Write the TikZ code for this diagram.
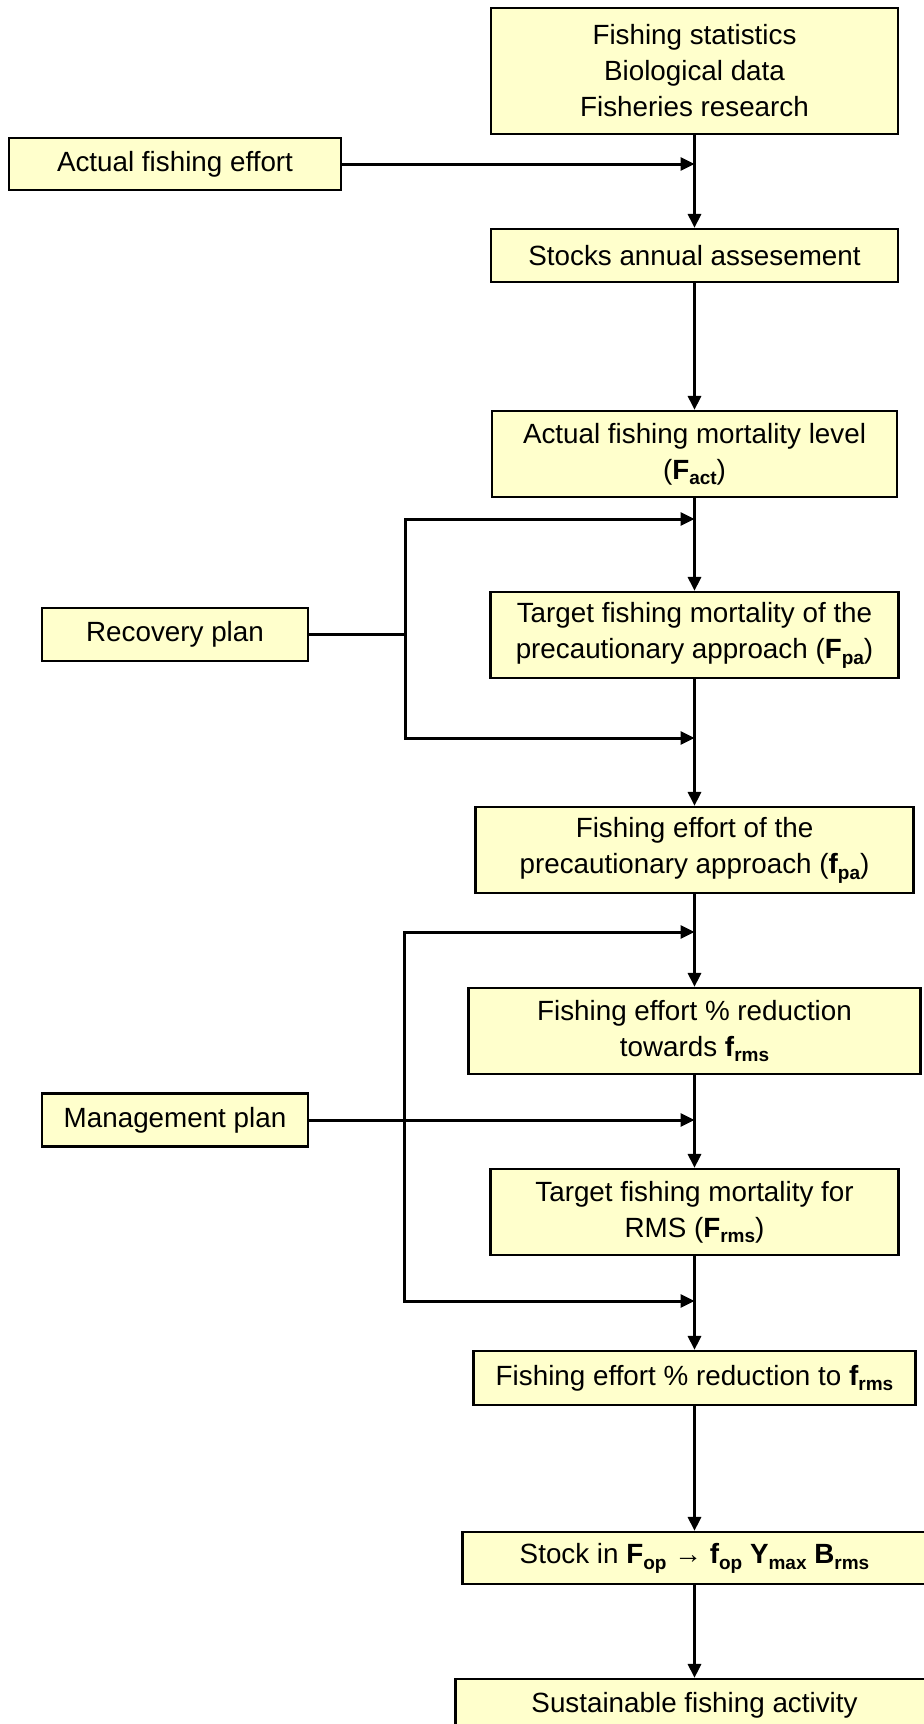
\documentclass[tikz,border=0pt]{standalone}
\usepackage{fontspec}
\setmainfont{Liberation Sans}
\usetikzlibrary{arrows.meta,positioning}
\definecolor{boxyellow}{RGB}{255,255,204}
\newcommand{\sbs}[1]{\raisebox{-0.4ex}{\fontsize{9.5}{10}\selectfont\bfseries #1}}

\begin{document}
\begin{tikzpicture}[x=0.5pt, y=-0.5pt, line width=1.5pt,
  box/.style = {draw, line width=1.1pt, fill=boxyellow, align=center, inner sep=0pt, font=\fontsize{13.9}{18}\selectfont},
  arr/.style = {-{Triangle[length=7pt,width=6.5pt]}},
  twoarr/.style = {{Triangle[length=7pt,width=6.5pt]}-{Triangle[length=7pt,width=6.5pt]}}]
\useasboundingbox (0,0) rectangle (923,1724);

% main column
\node[box, minimum width=203.5pt, minimum height=63pt] (src) at (694.5,71) {Fishing statistics\\Biological data\\Fisheries research};
\node[box, minimum width=203.5pt, minimum height=26.5pt] (stocks) [below of=src, node distance=92.25pt] {Stocks annual assesement};
\node[box, minimum width=202.5pt, minimum height=43pt] (fact) [below of=stocks, node distance=99.25pt] {Actual fishing mortality level\\(\textbf{F}\sbs{act})};
\node[box, minimum width=204pt, minimum height=43pt] (fpa) [below of=fact, node distance=90.5pt] {Target fishing mortality of the\\precautionary approach (\textbf{F}\sbs{pa})};
\node[box, minimum width=219pt, minimum height=43pt] (effpa) [below of=fpa, node distance=107.5pt] {Fishing effort of the\\precautionary approach (\textbf{f}\sbs{pa})};
\node[box, minimum width=226pt, minimum height=43pt] (redtow) [below of=effpa, node distance=90.5pt] {Fishing effort \% reduction\\towards \textbf{f}\sbs{rms}};
\node[box, minimum width=204pt, minimum height=43pt] (frms) [below of=redtow, node distance=90.5pt] {Target fishing mortality for\\RMS (\textbf{F}\sbs{rms})};
\node[box, minimum width=221pt, minimum height=27pt] (redto) [below of=frms, node distance=83pt] {Fishing effort \% reduction to \textbf{f}\sbs{rms}};
\node[box, minimum width=232pt, minimum height=26pt] (stock) [below of=redto, node distance=90pt] {Stock in \textbf{F}\sbs{op} → \textbf{f}\sbs{op} \textbf{Y}\sbs{max} \textbf{B}\sbs{rms}};
\node[box, minimum width=239pt, minimum height=26.5pt] (sust) [below of=stock, node distance=73.75pt] {Sustainable fishing activity};

% side inputs
\node[box, minimum width=166pt, minimum height=26pt] (effort) at (175,164) {Actual fishing effort};
\node[box, minimum width=133pt, minimum height=26.5pt] (recovery) at (175,634.5) {Recovery plan};
\node[box, minimum width=133pt, minimum height=26.5pt] (mgmt) at (175,1120) {Management plan};

\coordinate (rtop) at (405,519);
\coordinate (rbot) at (405,738);
\coordinate (mtop) at (404,932);
\coordinate (mbot) at (404,1301);

\draw[arr] (src) -- (stocks);
\draw[arr] (stocks) -- (fact);
\draw[arr] (fact) -- (fpa);
\draw[arr] (fpa) -- (effpa);
\draw[arr] (effpa) -- (redtow);
\draw[arr] (redtow) -- (frms);
\draw[arr] (frms) -- (redto);
\draw[arr] (redto) -- (stock);
\draw[arr] (stock) -- (sust);

\draw[arr] (effort) -- (effort -| src);

\draw (recovery) -- (recovery -| rtop);
\draw[twoarr] (rtop -| fact) -- (rtop) -- (rbot) -- (rbot -| fpa);

\draw[twoarr] (mtop -| effpa) -- (mtop) -- (mbot) -- (mbot -| frms);
\draw[arr] (mgmt) -- (mgmt -| redtow);

\end{tikzpicture}
\end{document}
